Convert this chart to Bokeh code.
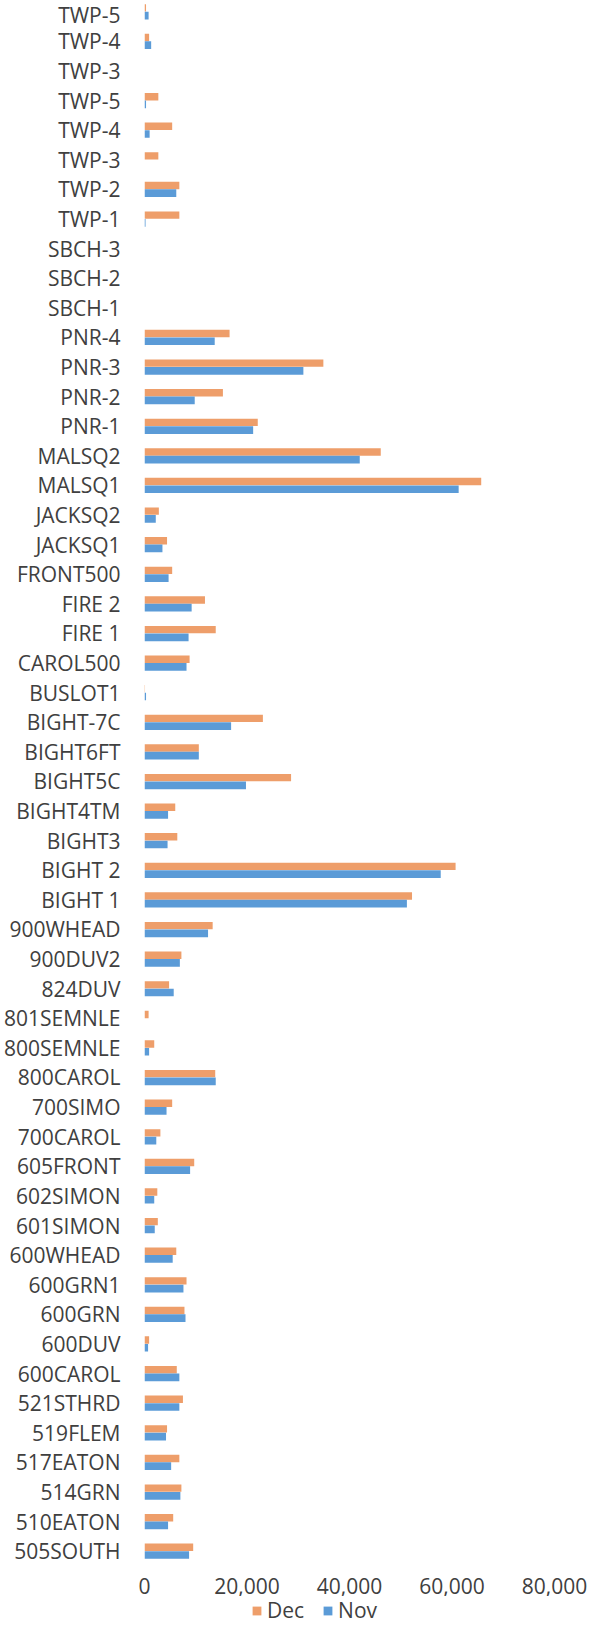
from bokeh.plotting import figure
from bokeh.layouts import column
from bokeh.models import (Range1d, FixedTicker, NumeralTickFormatter, Legend,
                          LegendItem, ColumnDataSource)
from bokeh.transform import dodge
from bokeh.embed import file_html
from bokeh.resources import INLINE

# categories listed from top of chart to bottom
stations = ["TWP-5", "TWP-4", "TWP-3", "TWP-5", "TWP-4", "TWP-3", "TWP-2", "TWP-1",
            "SBCH-3", "SBCH-2", "SBCH-1", "PNR-4", "PNR-3", "PNR-2", "PNR-1",
            "MALSQ2", "MALSQ1", "JACKSQ2", "JACKSQ1", "FRONT500", "FIRE 2", "FIRE 1",
            "CAROL500", "BUSLOT1", "BIGHT-7C", "BIGHT6FT", "BIGHT5C", "BIGHT4TM",
            "BIGHT3", "BIGHT 2", "BIGHT 1", "900WHEAD", "900DUV2", "824DUV",
            "801SEMNLE", "800SEMNLE", "800CAROL", "700SIMO", "700CAROL", "605FRONT",
            "602SIMON", "601SIMON", "600WHEAD", "600GRN1", "600GRN", "600DUV",
            "600CAROL", "521STHRD", "519FLEM", "517EATON", "514GRN", "510EATON",
            "505SOUTH"]

dec = [300, 900, 0, 2700, 5400, 2700, 6800, 6800,
       0, 0, 0, 16600, 34900, 15300, 22100,
       46100, 65700, 2800, 4400, 5400, 11800, 13900,
       8800, 100, 23100, 10600, 28600, 6000,
       6400, 60700, 52200, 13300, 7200, 4800,
       800, 1900, 13800, 5400, 3100, 9700,
       2500, 2600, 6200, 8200, 7800, 900,
       6300, 7500, 4400, 6800, 7200, 5600,
       9500]

nov = [800, 1300, 0, 300, 1000, 0, 6200, 200,
       0, 0, 0, 13700, 31000, 9800, 21200,
       42000, 61300, 2200, 3500, 4700, 9200, 8600,
       8200, 300, 16900, 10600, 19800, 4600,
       4500, 57800, 51200, 12400, 6900, 5700,
       0, 900, 13900, 4300, 2300, 8900,
       1900, 2000, 5500, 7600, 8000, 700,
       6800, 6800, 4200, 5200, 7000, 4600,
       8700]

x_ticks = [0, 20000, 40000, 60000, 80000]
series_names = ["Dec", "Nov"]

ORANGE = "#EE9E6A"
BLUE = "#5B9BD7"
TEXT = "#404040"
FONT = "Open Sans"

n = len(stations)
ypos = [n - 1 - i for i in range(n)]
src = ColumnDataSource(dict(y=ypos, dec=dec, nov=nov))

p = figure(width=591, height=1596, output_backend="svg", toolbar_location=None,
           x_range=Range1d(0, 80000), y_range=Range1d(-0.62, 52.38),
           min_border_left=140, min_border_right=37, min_border_top=0,
           min_border_bottom=0)

p.hbar(y=dodge("y", 0.13, range=p.y_range), left=0, right="dec", height=0.25,
       fill_color=ORANGE, line_color=None, source=src)
p.hbar(y=dodge("y", -0.13, range=p.y_range), left=0, right="nov", height=0.26,
       fill_color=BLUE, line_color=None, source=src)

p.xgrid.visible = False
p.ygrid.visible = False
p.outline_line_color = None

p.xaxis.ticker = FixedTicker(ticks=x_ticks)
p.xaxis.formatter = NumeralTickFormatter(format="0,0")
p.yaxis.ticker = FixedTicker(ticks=ypos)
p.yaxis.major_label_overrides = {y: s for y, s in zip(ypos, stations)}

for ax in (p.xaxis[0], p.yaxis[0]):
    ax.axis_label = None
    ax.axis_line_color = None
    ax.major_tick_line_color = None
    ax.minor_tick_line_color = None
    ax.major_tick_out = 0
    ax.major_tick_in = 0
    ax.major_label_text_font = FONT
    ax.major_label_text_font_size = "21px"
    ax.major_label_text_color = TEXT

p.yaxis.major_label_standoff = 24
p.xaxis.major_label_standoff = 8

# legend strip below the chart (its frame is aligned with the chart frame)
leg = figure(width=591, height=28, output_backend="svg", toolbar_location=None,
             x_axis_type=None, y_axis_type=None, x_range=p.x_range,
             y_range=Range1d(-30, -20), min_border=0)
leg.xgrid.visible = False
leg.ygrid.visible = False
leg.outline_line_color = None
# zero-length keys: only their legend swatches show
k_dec = leg.hbar(y="y", left=0, right=0, height=0.25, fill_color=ORANGE,
                 line_color=None, source=src)
k_nov = leg.hbar(y="y", left=0, right=0, height=0.25, fill_color=BLUE,
                 line_color=None, source=src)
legend = Legend(items=[LegendItem(label=series_names[0], renderers=[k_dec]),
                       LegendItem(label=series_names[1], renderers=[k_nov])],
                orientation="horizontal", location=(107, 0),
                padding=0, margin=0, spacing=18, label_standoff=5,
                glyph_width=11, glyph_height=11,
                label_text_font=FONT, label_text_font_size="21px",
                label_text_color=TEXT, background_fill_alpha=0,
                border_line_color=None)
leg.add_layout(legend, "center")

layout = column(p, leg, spacing=0)
open("out.html", "w").write(file_html(layout, INLINE))
